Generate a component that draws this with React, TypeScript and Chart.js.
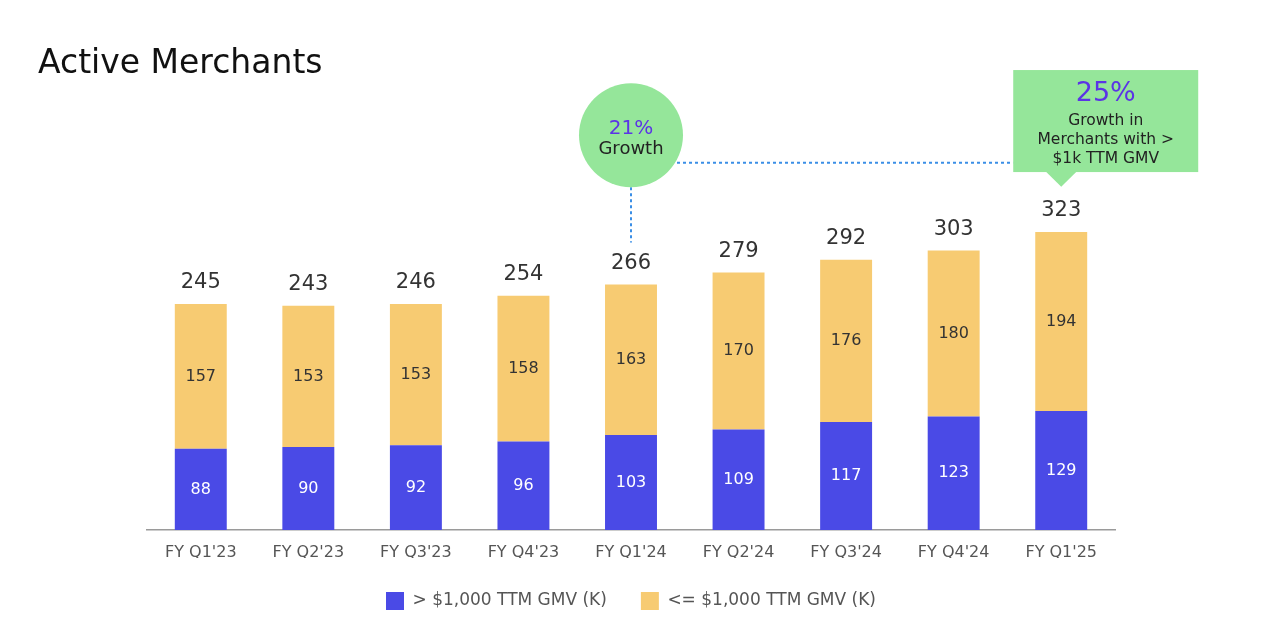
import React, { useEffect, useRef } from "react";
import { Chart, registerables } from "chart.js";

Chart.register(...registerables);

const categories = ["FY Q1'23", "FY Q2'23", "FY Q3'23", "FY Q4'23", "FY Q1'24", "FY Q2'24", "FY Q3'24", "FY Q4'24", "FY Q1'25"];
const above1k = [88, 90, 92, 96, 103, 109, 117, 123, 129];
const below1k = [157, 153, 153, 158, 163, 170, 176, 180, 194];
const totals = [245, 243, 246, 254, 266, 279, 292, 303, 323];
const seriesNames = ["> $1,000 TTM GMV (K)", "<= $1,000 TTM GMV (K)"];
const title = "Active Merchants";
const circleLines = ["21%", "Growth"];
const calloutLines = ["25%", "Growth in", "Merchants with >", "$1k TTM GMV"];

const FONT = "'DejaVu Sans', sans-serif";
const BLUE = "#4a4ae6";
const YELLOW = "#f7cb72";
const GREEN = "#95e69a";
const PURPLE = "#5b34e6";
const DOT = "#3a8ee6";

const overlayPlugin = {
  id: "overlay",
  afterDatasetsDraw(chart: any) {
    const ctx = chart.ctx;
    const y = chart.scales.y;
    ctx.save();
    ctx.textAlign = "center";
    ctx.textBaseline = "middle";
    chart.data.datasets.forEach((ds: any, di: number) => {
      const meta = chart.getDatasetMeta(di);
      meta.data.forEach((el: any, i: number) => {
        ctx.font = `16px ${FONT}`;
        ctx.fillStyle = di === 0 ? "#ffffff" : "#333333";
        ctx.fillText(String(ds.data[i]), el.x, (el.y + el.base) / 2);
      });
    });
    const topMeta = chart.getDatasetMeta(1);
    topMeta.data.forEach((el: any, i: number) => {
      ctx.font = `21px ${FONT}`;
      ctx.fillStyle = "#333333";
      ctx.fillText(String(totals[i]), el.x, el.y - 21);
    });

    const c = chart.getDatasetMeta(1).data[4];
    const cx = c.x;
    const cy = y.getPixelForValue(428);
    const r = 52;
    const lineY = y.getPixelForValue(398);
    ctx.setLineDash([3, 3]);
    ctx.strokeStyle = DOT;
    ctx.lineWidth = 2;
    ctx.beginPath();
    ctx.moveTo(cx, cy + r);
    ctx.lineTo(cx, c.y - 42);
    ctx.stroke();
    const last = chart.getDatasetMeta(1).data[8];
    const boxL = last.x - 48;
    const boxR = last.x + 137;
    const boxT = y.getPixelForValue(498.6);
    const boxB = y.getPixelForValue(388);
    const tipY = y.getPixelForValue(372);
    ctx.beginPath();
    ctx.moveTo(cx + 40, lineY);
    ctx.lineTo(boxL, lineY);
    ctx.stroke();
    ctx.setLineDash([]);

    ctx.fillStyle = GREEN;
    ctx.beginPath();
    ctx.arc(cx, cy, r, 0, Math.PI * 2);
    ctx.fill();
    ctx.font = `20px ${FONT}`;
    ctx.fillStyle = PURPLE;
    ctx.fillText(circleLines[0], cx, cy - 6);
    ctx.font = `18px ${FONT}`;
    ctx.fillStyle = "#222222";
    ctx.fillText(circleLines[1], cx, cy + 14);

    ctx.fillStyle = GREEN;
    ctx.fillRect(boxL, boxT, boxR - boxL, boxB - boxT);
    ctx.beginPath();
    ctx.moveTo(last.x - 16, boxB - 1);
    ctx.lineTo(last.x + 16, boxB - 1);
    ctx.lineTo(last.x, tipY);
    ctx.closePath();
    ctx.fill();
    const bx = (boxL + boxR) / 2;
    ctx.font = `27px ${FONT}`;
    ctx.fillStyle = PURPLE;
    ctx.fillText(calloutLines[0], bx, boxT + 24);
    ctx.font = `15.5px ${FONT}`;
    ctx.fillStyle = "#222222";
    ctx.fillText(calloutLines[1], bx, boxT + 51);
    ctx.fillText(calloutLines[2], bx, boxT + 70);
    ctx.fillText(calloutLines[3], bx, boxT + 89);

    ctx.textAlign = "left";
    ctx.textBaseline = "alphabetic";
    ctx.font = `33px ${FONT}`;
    ctx.fillStyle = "#111111";
    ctx.fillText(title, 38, 73);
    ctx.restore();
  },
};

export default function App() {
  const ref = useRef<HTMLCanvasElement | null>(null);
  useEffect(() => {
    if (!ref.current) return;
    const chart = new Chart(ref.current, {
      type: "bar",
      data: {
        labels: categories,
        datasets: [
          { label: seriesNames[0], data: above1k, backgroundColor: BLUE, stack: "s" },
          { label: seriesNames[1], data: below1k, backgroundColor: YELLOW, stack: "s" },
        ],
      },
      options: {
        animation: false,
        responsive: true,
        maintainAspectRatio: false,
        layout: { padding: { left: 147, right: 165, top: 161, bottom: 12 } },
        datasets: { bar: { categoryPercentage: 1, barPercentage: 0.483 } },
        scales: {
          x: {
            stacked: true,
            grid: { display: false, drawTicks: false },
            border: { display: true, color: "#9a9a9a", width: 1.5 },
            ticks: { color: "#555555", font: { family: FONT, size: 16, lineHeight: 1 }, padding: 15 },
            afterFit: (scale: any) => {
              scale.height = scale.height - 18;
            },
          },
          y: { stacked: true, display: false, min: 0, max: 400 },
        },
        plugins: {
          legend: {
            position: "bottom",
            labels: {
              boxWidth: 18,
              boxHeight: 18,
              color: "#555555",
              padding: 34,
              font: { family: FONT, size: 17 },
            },
          },
          tooltip: { enabled: false },
        },
      },
      plugins: [overlayPlugin],
    });
    return () => chart.destroy();
  }, []);
  return (
    <div style={{ position: "absolute", left: 0, top: 0, width: 1280, height: 632, background: "#fff" }}>
      <canvas ref={ref} />
    </div>
  );
}
